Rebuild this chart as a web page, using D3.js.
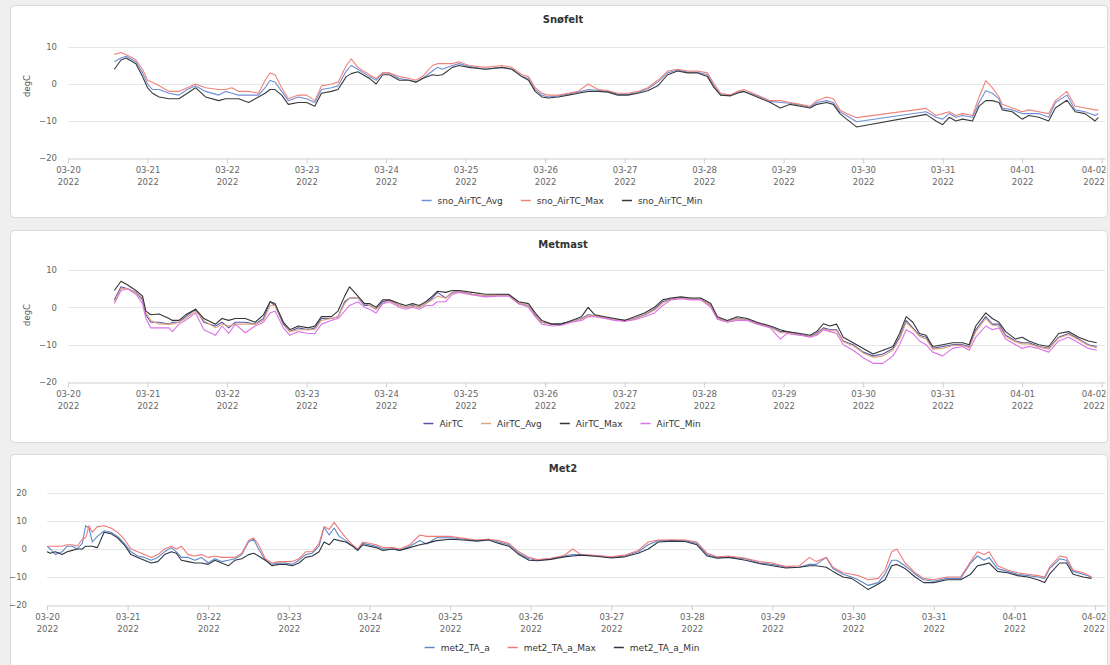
<!DOCTYPE html>
<html>
<head>
<meta charset="utf-8">
<script src="https://cdn.jsdelivr.net/npm/d3@7"></script>
<style>
  body { margin: 0; background: #efefef; font-family: "DejaVu Sans", sans-serif; }
</style>
</head>
<body>
<script>
// ---- Snøfelt (hours after 2022-03-20 00:00) ----
const snoHours = [14,16,17.5,20.5,22.5,24,25.5,27.5,30.5,33.5,
  36,38.5,41.5,45.5,47.5,49.5,51.5,54.5,57.5,59.5,
  61,62.5,64.5,66.5,69.5,72,74.5,76.5,79.5,81.5,
  84,85.5,87.5,91,93,95,97,100,103,105,
  107,110,111.5,113,116,118,121,126,131,134,
  137,139,141,143,145,148,151,154,157,160,
  163,166,169,172,175,178,181,184,187,190,
  193,195,197,200,202,204,208,212,215,218,
  221,224,226,229,231,233,235,238,259,262,
  264,266,268,270,273,275,277,279,281,282,
  285,288,290,293,296,298,301.5,304,307,310,
  311];
const snoAvg = [6,7,7.5,6,3,0,-1.5,-1.5,-2.5,-3,
  -1.5,-0.5,-2,-3,-2,-2.5,-3,-3,-3,-1,
  1,0.5,-2,-4.5,-3.5,-4,-5,-1.5,-1,-0.5,
  3.5,5,4,2,1,3,3,1.5,1,0.5,
  1.5,3.5,4.5,4,5,5.5,4.8,4,4.5,4,
  2,1.5,-1.5,-3,-3.5,-3.2,-2.7,-2.2,-1.5,-1.7,
  -2,-2.8,-2.8,-2.3,-1.3,0.5,3,3.8,3.2,3.2,
  2.5,-0.5,-3,-3,-2.2,-2,-3.2,-4.7,-5,-5.2,
  -5.7,-6.3,-5,-4.5,-5,-7.5,-8.5,-10.2,-7.5,-9,
  -9.5,-8,-9,-8.5,-9,-5,-1.8,-2.5,-4,-6.5,
  -7,-8,-8,-8,-9,-5,-3,-7,-7.5,-8.5,
  -8];
const snoMax = [8,8.5,8,6.5,4,1,0.5,-0.5,-2,-2,
  -1,0,-1,-1.5,-1.5,-1,-2,-2,-2.5,1,
  3,2.5,-1,-4,-3,-3,-4.5,-0.5,0,0.5,
  5,6.8,4.5,2.5,1.5,3,3,2,1.5,1,
  2,5,5.5,5.5,5.5,6,5,4.5,5,4.5,
  2.5,2,-1,-2.5,-3,-3,-2.5,-2,0,-1.5,
  -1.8,-2.5,-2.5,-2,-1,1,3.5,4,3.5,3.5,
  3,0,-2.5,-3,-2,-1.5,-3,-4.5,-4.5,-5,
  -5.5,-6,-4.5,-3.5,-4,-7,-8,-9.1,-6.6,-8.5,
  -8,-7.5,-8.5,-8,-8.5,-3.5,0.9,-1,-3.5,-5.5,
  -6.5,-7.5,-7,-7.5,-8,-4.5,-2,-6,-6.5,-7,
  -7];
const snoMin = [4,6.5,7,5.5,2,-1,-2.5,-3.5,-4,-4,
  -2.5,-1,-3.5,-4.5,-4,-4,-4,-5,-3.5,-2.5,
  -1.5,-1.5,-3,-5.5,-5,-5,-6,-2.5,-2,-1.5,
  2,2.8,3.3,1.5,0,2.5,2.5,1,1,0.5,
  1.5,2.5,2.3,2.5,4.5,5,4.5,4,4.5,4,
  2,1,-2,-3.5,-3.8,-3.5,-3,-2.5,-2,-2,
  -2.2,-3,-3,-2.5,-1.8,-0.5,2.5,3.5,3,3,
  2,-1,-3,-3.2,-2.5,-2,-3.5,-5,-6.5,-5.5,
  -6,-6.5,-5.5,-5,-5.5,-8,-9.5,-11.6,-8.2,-10,
  -11,-9,-10,-9.5,-10,-6,-4.5,-4.5,-5,-7,
  -7.5,-9.5,-8.5,-9,-10,-6.5,-4.4,-7.5,-8,-10,
  -9];

// ---- Metmast ----
const metHours = [14,16,18,20.5,22.5,23.5,25,27.5,30.5,31.5,
  33.5,35.5,38.5,41,44.5,46.5,48.5,50.5,53.5,56.5,
  59,61,62.5,65,67,69.5,72.5,74.5,76.5,79.5,
  81.5,83.5,85,87.5,89.5,91,93,95,97,100,
  102,104,106,108,110,111.5,114,116,118,122,
  126,130,133,136,139,141,143,146,149,152,
  155,157,159,162,165,168,171,174,177,179.5,
  182,185,188,191,194,196,199,202,205,208,
  212,215,217,221,224,226,228,230,232,234,
  237,240,243,246,249,251,253,255,257,259,
  261,264,267,270,272,274,277,279,281,283,
  286,288,290,293,296,299,302,305,308,310.5];
const metAir = [2,5.5,5,4,2,-2,-4,-4,-4.5,-4,
  -4,-2.5,-0.5,-4,-5,-4,-5.5,-4,-4,-4.5,
  -3,1.5,0.5,-4.5,-6.5,-5.5,-6,-5.5,-3,-3,
  -2.5,1.5,2.5,2.5,0.5,0.5,-0.5,1.5,2,0.5,
  0,0.5,0,1,2.5,4,2.5,4,4.3,3.5,
  3,3.3,3.3,1,0.5,-2,-4,-4.5,-4.3,-3.8,
  -3,-2,-2.2,-2.8,-3.2,-3.5,-3,-2,-0.5,1.5,
  2.2,2.5,2.3,2.2,0.5,-3,-3.8,-3,-3.3,-4.3,
  -5.3,-6.5,-6.5,-7.3,-7.8,-7,-5.5,-6,-6,-9,
  -10,-12,-13,-12.5,-11,-8,-3.5,-5.5,-7.5,-8,
  -11,-10.5,-10,-10,-10.5,-6,-2.5,-4.5,-4.5,-7.5,
  -9,-9.5,-9.5,-10.5,-11,-8,-7,-8.5,-10,-10.5];
const metAvg = [1.5,5,5,4,2.5,-1.5,-3.5,-4.5,-4.5,-4.5,
  -4,-3,-1,-3.5,-5.5,-4.5,-5,-4.5,-4.5,-4.5,
  -3.5,0.5,0.5,-4,-6.5,-6,-6,-6,-3.5,-3,
  -2.5,1,2.5,2.5,1,0.5,-0.5,1,1.8,0.5,
  0,0.3,0,1,2,3,2.5,3.8,4.2,3.5,
  3,3.2,3.3,1.2,0.5,-1.8,-4,-4.6,-4.4,-3.8,
  -3.1,-2.2,-2.2,-2.8,-3.3,-3.6,-3.1,-2.1,-0.8,1.2,
  2.1,2.5,2.3,2.2,0.6,-2.8,-3.8,-3.1,-3.4,-4.4,
  -5.3,-6.8,-6.7,-7.4,-7.9,-7.2,-5.8,-6.2,-6.3,-9.2,
  -10.3,-12.2,-13.4,-13,-11.5,-8.5,-4,-5.8,-7.8,-8.5,
  -11.2,-11,-10.2,-10.2,-10.8,-6.5,-3,-4.8,-5,-7.8,
  -9.2,-9.8,-9.8,-10.6,-11.2,-8.2,-7.3,-8.7,-10.2,-10.8];
const metMax = [4.5,7,6,4.5,3,-1,-2,-1.8,-3,-3.5,
  -3.5,-2,-0.5,-3,-4.5,-3,-3.5,-3,-3,-4,
  -2,1.5,1,-4,-6,-5,-5.5,-5,-2.5,-2.5,
  -1,3,5.5,3,1,1,0,2,2,1,
  0.5,1,0.5,1.5,3,4.3,4,4.5,4.5,4,
  3.5,3.5,3.5,1.5,1,-1.5,-3.5,-4.5,-4.5,-3.5,
  -2.5,0,-2,-2.5,-3,-3.5,-2.5,-1.5,0,2,
  2.5,2.8,2.5,2.5,1,-2.5,-3.5,-2.5,-3,-4,
  -5,-6,-6.5,-7,-7.5,-6.5,-4.4,-5,-4.5,-8,
  -9.5,-11,-12.5,-11.5,-10.5,-7,-2.5,-4,-7,-7.5,
  -10.5,-10,-9.5,-9.5,-10,-5,-1.5,-3,-4,-6.5,
  -8.5,-8,-9,-10,-10.5,-7,-6.5,-8,-9,-9.5];
const metMin = [1,4.5,5,3.5,1,-3,-5.5,-5.5,-5.5,-6.5,
  -4.5,-3.5,-1.5,-6,-7.5,-5,-7,-4.5,-6.8,-5,
  -4,-1.5,-1,-5.5,-7.5,-6.5,-7,-7,-4.5,-3.5,
  -3,-1,0.5,1.5,0,-0.5,-1.5,1,1.5,0,
  -0.5,0,-0.5,0.5,0.5,1.5,1.5,3.5,4,3.3,
  2.8,3,3,1,0,-2.5,-4.5,-5,-4.8,-4,
  -3.5,-2.5,-2.5,-3,-3.5,-3.8,-3.3,-2.5,-1.5,0.5,
  2,2.3,2,2,0,-3.2,-4,-3.5,-3.5,-4.5,
  -5.5,-8.5,-7,-7.5,-8,-7.5,-6,-6.5,-7,-10,
  -11.5,-13.5,-15,-15,-13,-10,-6,-7,-9,-10,
  -12,-13,-11,-10.5,-11.5,-8,-5,-6,-5.5,-8.5,
  -10,-11,-10.5,-11,-12,-9,-8,-9.5,-11,-11.5];

// ---- Met2 ----
const met2Hours = [0,1,2.5,4.5,6,7.5,9,10.5,11.5,12.5,
  13.5,15,17,19,21,23,25,27,29,31,
  33,35,37,38.5,40,42,44,46,48,50,
  52,54,56,58,60,61.5,63,65,67,69,
  71,73,75,77,79,81,82.5,84,85.5,87,
  89,91,92.5,94,98,100,103,105,108,111,
  113,116,120,124,128,131.5,134.5,137.5,140.5,143.5,
  146,150,154,156.5,159,164,168,172,176,179,
  182,186,190,193.5,196.5,199.5,203,208,212,216,
  220,224,227,229,232,234,237,239.5,241.5,244.5,
  247.5,249.5,251.5,253,255.5,258.5,261,264,268,272,
  275,277,279,280.5,283,286,289,292,295,297,
  298.5,301.5,303.5,305.5,308.5,311];
const met2A = [1,0,-2,-1,1,1,0,2,8.3,7.5,
  2.5,4.5,6.5,6,4.5,2,-1,-2.5,-3,-4,
  -3,-1,0.5,-1,-3,-3,-4,-3,-5,-3.5,
  -4.5,-4,-3.5,-2,2.5,3.5,0,-4,-5.5,-5,
  -5,-5.5,-4,-2,-1.5,1,7.7,5,7.5,4.5,
  3,1,-0.5,2,1,0,0,-0.5,1,3,
  1.8,4,4,3.5,3,3.5,2.5,1.5,-1.5,-3.5,
  -4,-3.5,-2.5,-2,-2,-2.5,-3,-2.5,-1,1.5,
  3,3,3,2,-2,-3,-3,-3.5,-5,-5.5,
  -6.5,-6.5,-5.5,-5.5,-3,-7,-9,-10,-11,-13,
  -12,-9,-4,-4,-6,-9,-11,-11.5,-10.5,-10.5,
  -5,-2.5,-4,-3,-7,-8,-9,-9.5,-10,-10.5,
  -7,-3.5,-4,-8,-9,-10];
const met2Max = [1,1,1,1,1.5,1.5,1,3.5,4,8.3,
  6,8,8.3,7.5,6,3.5,0,-1,-2,-3,
  -2,0,1,0,1,-2,-2.5,-2,-3,-2.5,
  -3,-3,-3,-1.5,3,4,1.5,-3.5,-5,-4.5,
  -4.5,-4.5,-3.5,-1,-1,2,8,7,9.5,7,
  4,1.5,0,2.5,1.5,0.5,0.5,0,1.5,5,
  4.5,4.5,4.5,3.8,3.2,3.5,3,2,-1,-3,
  -3.8,-3.3,-2.3,0,-2,-2.3,-2.8,-2.2,-0.5,2.5,
  3.2,3.3,3.2,2.5,-1.5,-2.8,-2.5,-3.3,-4.5,-5,
  -6.3,-6,-3,-4.5,-3,-6.5,-8.5,-9,-9.5,-11,
  -10.5,-7.5,-1,0,-5,-8.5,-10.5,-11,-10,-10,
  -4.5,-1,-2,-1,-6,-7.5,-8.5,-9,-9.5,-10,
  -6.5,-2.5,-3,-7.5,-8.5,-10];
const met2Min = [-1,-1.5,-1,-2,-1,-0.5,0,0,1,1,
  1,0.5,6,5.5,4,1.5,-2,-3,-4,-5,
  -4.5,-2,-1,-1.5,-4,-4.5,-5,-5,-5.5,-4,
  -5,-6,-4,-3.5,-2,-1.5,-2.5,-4,-6,-5.5,
  -5.5,-6,-5,-3,-2.5,-1,2.5,1.5,3.5,3,
  2.5,1,-0.5,1.5,0.5,-0.5,0,-0.5,0.5,1.5,
  2,3,3.5,3.2,2.8,3.2,2,1,-2,-4,
  -4.2,-3.7,-2.8,-2.5,-2.2,-2.7,-3.2,-2.8,-1.5,0,
  2.5,2.8,2.7,1.5,-2.5,-3.3,-3,-4,-5.2,-6,
  -6.8,-6.5,-6,-6,-6.5,-8,-10,-10.5,-12,-14.5,
  -12.5,-11,-6,-5.5,-7,-10,-12,-12,-11,-11,
  -9,-6,-5.5,-5,-8,-8.5,-9.5,-10,-11,-12,
  -9,-5,-5,-9,-10,-10.5];

const ticks30 = [-20, -10, 0, 10];
const ticks40 = [-20, -10, 0, 10, 20];

const W = 1110, H = 665;
const rightLimit = 1106;
const t0 = new Date(2022, 2, 20);
const toDate = h => new Date(t0.getTime() + h * 3600e3);
const days = d3.timeDay.range(new Date(2022, 2, 20), new Date(2022, 3, 3));
const fmtMD = d3.timeFormat("%m-%d");
const fmtY = d3.timeFormat("%Y");

const svg = d3.select("body").append("svg")
  .attr("width", W)
  .attr("height", H)
  .style("display", "block");

const panels = [
  { title: "Snøfelt", card: [10, 5, 1097, 212], xRange: [68, 1105], yRange: [158, 47],
    yDomain: [-20, 10], yTicks: ticks30, endHour: 313, labelX: 57, unitY: 86, legendY: 200,
    hours: snoHours,
    series: [
      { name: "sno_AirTC_Avg", values: snoAvg, color: "#6f8fd8" },
      { name: "sno_AirTC_Max", values: snoMax, color: "#f0837a" },
      { name: "sno_AirTC_Min", values: snoMin, color: "#3a3a3a" }] },
  { title: "Metmast", card: [10, 230, 1097, 212], xRange: [68, 1105], yRange: [382, 270],
    yDomain: [-20, 10], yTicks: ticks30, endHour: 313, labelX: 57, unitY: 315, legendY: 423,
    hours: metHours,
    series: [
      { name: "AirTC", values: metAir, color: "#5257ad" },
      { name: "AirTC_Avg", values: metAvg, color: "#dea47a" },
      { name: "AirTC_Max", values: metMax, color: "#333333" },
      { name: "AirTC_Min", values: metMin, color: "#dc72e6" }] },
  { title: "Met2", card: [10, 454, 1097, 220], xRange: [47, 1105], yRange: [605, 493],
    yDomain: [-20, 20], yTicks: ticks40, endHour: 315, labelX: 27, unitY: null, legendY: 647,
    hours: met2Hours,
    series: [
      { name: "met2_TA_a", values: met2A, color: "#5f88c9" },
      { name: "met2_TA_a_Max", values: met2Max, color: "#f07a7a" },
      { name: "met2_TA_a_Min", values: met2Min, color: "#2f3542" }] }
];

panels.forEach(p => {
  const g = svg.append("g");

  g.append("rect")
    .attr("x", p.card[0] + 0.5).attr("y", p.card[1] + 0.5)
    .attr("width", p.card[2]).attr("height", p.card[3])
    .attr("rx", 4)
    .attr("fill", "#fff")
    .attr("stroke", "#d9d9d9");

  const x = d3.scaleTime().domain([t0, toDate(p.endHour)]).range(p.xRange);
  const y = d3.scaleLinear().domain(p.yDomain).range(p.yRange);

  // horizontal grid
  g.append("g").selectAll("line")
    .data(p.yTicks.filter(v => v !== p.yDomain[0]))
    .join("line")
    .attr("x1", p.xRange[0]).attr("x2", p.xRange[1])
    .attr("y1", d => Math.round(y(d)) + 0.5).attr("y2", d => Math.round(y(d)) + 0.5)
    .attr("stroke", "#e6e6e6");

  // y axis labels
  const ya = g.append("g")
    .attr("transform", "translate(" + p.labelX + ",0)")
    .call(d3.axisLeft(y).tickValues(p.yTicks).tickSize(0).tickPadding(0));
  ya.select(".domain").remove();
  ya.selectAll("text")
    .attr("fill", "#666")
    .style("font-family", "DejaVu Sans")
    .style("font-size", "8.5px");

  if (p.unitY !== null) {
    g.append("text")
      .attr("transform", "translate(30," + p.unitY + ") rotate(-90)")
      .attr("text-anchor", "middle")
      .attr("fill", "#555")
      .style("font-size", "8.5px")
      .text("degC");
  }

  // x axis
  const xa = g.append("g")
    .attr("transform", "translate(0," + (Math.round(p.yRange[0]) + 0.5) + ")")
    .call(d3.axisBottom(x).tickValues(days).tickSize(5).tickSizeOuter(0).tickPadding(3));
  xa.select(".domain").attr("stroke", "#cfcfcf");
  xa.selectAll(".tick line").attr("stroke", "#cfcfcf");
  xa.selectAll(".tick text").each(function (d) {
    const t = d3.select(this).text(null)
      .attr("fill", "#666")
      .style("font-family", "DejaVu Sans")
      .style("font-size", "8.5px");
    t.append("tspan").attr("x", 0).text(fmtMD(d));
    t.append("tspan").attr("x", 0).attr("dy", "1.45em").text(fmtY(d));
    // keep the last label inside the card, like the original
    const bb = this.getBBox();
    const over = x(d) + bb.x + bb.width - rightLimit;
    if (over > 0) t.attr("transform", "translate(" + (-over) + ",0)");
  });

  // series lines
  p.series.forEach(s => {
    const line = d3.line()
      .x((d, i) => x(toDate(p.hours[i])))
      .y(d => y(d));
    g.append("path")
      .datum(s.values)
      .attr("d", line)
      .attr("fill", "none")
      .attr("stroke", s.color)
      .attr("stroke-width", 1.1)
      .attr("stroke-linejoin", "round");
  });

  // title
  g.append("text")
    .attr("x", 563).attr("y", p.card[1] + 18)
    .attr("text-anchor", "middle")
    .attr("fill", "#333")
    .style("font-size", "10px")
    .style("font-weight", "bold")
    .text(p.title);

  // legend
  const lg = g.append("g");
  let cx = 0;
  p.series.forEach(s => {
    const it = lg.append("g").attr("transform", "translate(" + cx + ",0)");
    it.append("line")
      .attr("x1", 0).attr("x2", 10)
      .attr("y1", 0.5).attr("y2", 0.5)
      .attr("stroke", s.color)
      .attr("stroke-width", 1.5);
    const tx = it.append("text")
      .attr("x", 16).attr("y", 3.5)
      .attr("fill", "#333")
      .style("font-size", "9px")
      .text(s.name);
    cx += 16 + tx.node().getComputedTextLength() + 18;
  });
  const lw = cx - 18;
  lg.attr("transform", "translate(" + (562 - lw / 2) + "," + p.legendY + ")");
});
</script>
</body>
</html>
